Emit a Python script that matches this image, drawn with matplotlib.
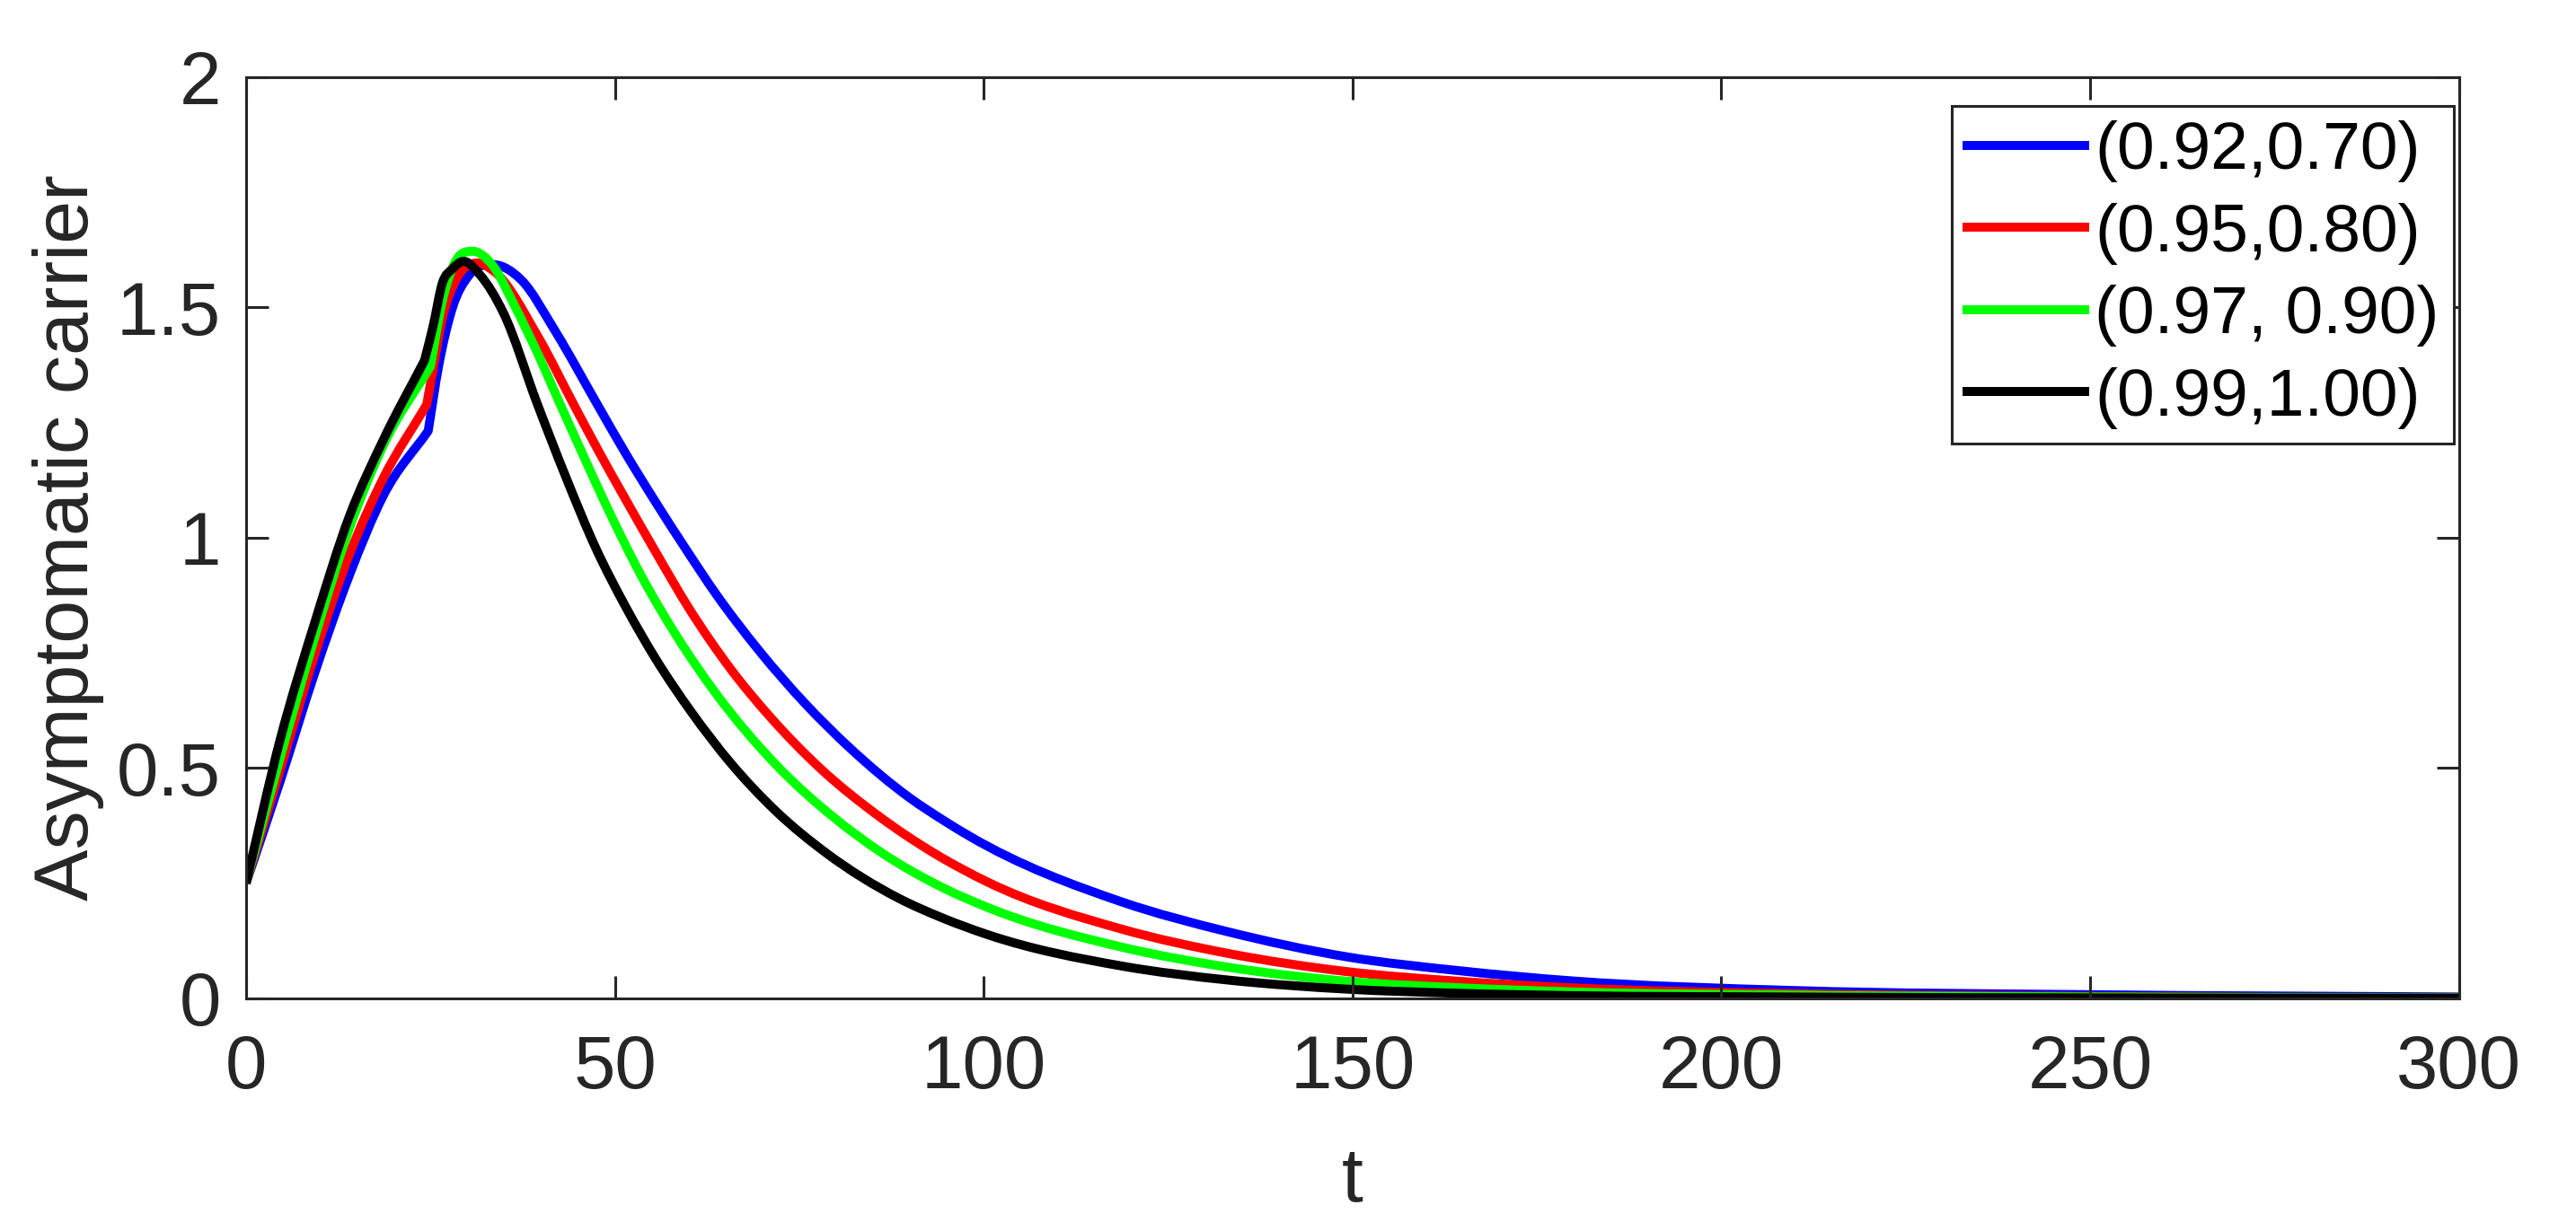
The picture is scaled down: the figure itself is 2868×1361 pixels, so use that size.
import matplotlib
matplotlib.use("Agg")
import matplotlib.pyplot as plt
from matplotlib.path import Path
from matplotlib.patches import PathPatch
from matplotlib.lines import Line2D

# Values
t_blue = [0, 4.7, 9.3, 14.0, 18.6, 24.7, 26.1, 28.0, 30.3, 33.5, 37.3, 41.9,
          47.6, 51.5, 55.5, 59.6, 63.7, 69.7, 75.8, 81.9, 90.0, 94.5, 98.2,
          118.8, 133.0, 149.3, 164.5, 179.7, 210, 250, 300]
y_blue = [0.25, 0.475, 0.706, 0.918, 1.091, 1.232, 1.372, 1.50, 1.571, 1.593, 1.56, 1.449,
          1.29, 1.182, 1.078, 0.976, 0.878, 0.752, 0.640, 0.543, 0.435, 0.387, 0.351,
          0.209, 0.145, 0.090, 0.060, 0.038, 0.017, 0.008, 0.003]

t_red = [0, 4.7, 9.3, 14.0, 18.6, 24.5, 25.4, 26.6, 28.4, 31.0, 33.5, 39.6,
         44.4, 47.8, 51.5, 55.5, 60.0, 65.7, 71.0, 77.8, 86.0, 93.3, 100.6,
         118.8, 133.0, 149.3, 164.5, 179.7, 210, 250, 300]
y_red = [0.25, 0.50, 0.745, 0.963, 1.129, 1.289, 1.37, 1.475, 1.558, 1.596, 1.58, 1.436,
         1.29, 1.188, 1.082, 0.970, 0.848, 0.715, 0.612, 0.500, 0.393, 0.315, 0.252,
         0.150, 0.098, 0.058, 0.037, 0.023, 0.010, 0.004, 0.0015]

t_green = [0, 4.7, 9.3, 14.0, 18.6, 25.0, 26.6, 28.4, 30.5, 33.5, 36.3, 39.6,
           42.3, 45.4, 48.6, 53.5, 58.4, 63.7, 71.8, 79.9, 86.0, 94.5, 100.6,
           118.8, 133.0, 149.3, 164.5, 179.7, 210, 250, 300]
y_green = [0.25, 0.527, 0.783, 1.02, 1.20, 1.372, 1.513, 1.60, 1.622, 1.59, 1.507, 1.398,
           1.30, 1.190, 1.078, 0.920, 0.786, 0.662, 0.508, 0.390, 0.318, 0.240, 0.197,
           0.111, 0.068, 0.037, 0.023, 0.014, 0.007, 0.003, 0.001]

t_black = [0, 4.7, 9.3, 14.0, 18.6, 24.2, 25.4, 26.6, 28.0, 29.4, 31.7, 34.9,
           39.5, 43.3, 47.4, 51.5, 55.5, 60.4, 65.7, 71.8, 78.7, 88.4, 94.5,
           100.6, 118.8, 133.0, 149.3, 164.5, 179.7, 210, 250, 300]
y_black = [0.25, 0.566, 0.815, 1.046, 1.212, 1.385, 1.462, 1.552, 1.584, 1.600, 1.571, 1.488,
           1.29, 1.134, 0.978, 0.849, 0.738, 0.621, 0.511, 0.407, 0.315, 0.218, 0.174,
           0.138, 0.070, 0.040, 0.020, 0.011, 0.006, 0.003, 0.001, 0.0005]

# index of the corner near t = 25 in every series
kinks = [5, 5, 5, 5]

labels = ["(0.92,0.70)", "(0.95,0.80)", "(0.97, 0.90)", "(0.99,1.00)"]
colors = ["#0000ff", "#ff0000", "#00ff00", "#000000"]

x_ticks = [0, 50, 100, 150, 200, 250, 300]
y_ticks = [0, 0.5, 1, 1.5, 2]
y_tick_labels = ["0", "0.5", "1", "1.5", "2"]


def bezier_piece(x, y):
    """Smooth cubic Bezier segments through the points (three-point slopes)."""
    n = len(x)
    h = [x[i + 1] - x[i] for i in range(n - 1)]
    dl = [(y[i + 1] - y[i]) / h[i] for i in range(n - 1)]
    d = [dl[0]] + [(h[k] * dl[k - 1] + h[k - 1] * dl[k]) / (h[k - 1] + h[k])
                   for k in range(1, n - 1)] + [dl[-1]]
    verts = []
    for i in range(n - 1):
        verts += [(x[i] + h[i] / 3, y[i] + d[i] * h[i] / 3),
                  (x[i + 1] - h[i] / 3, y[i + 1] - d[i + 1] * h[i] / 3),
                  (x[i + 1], y[i + 1])]
    return verts


def curve_path(x, y, k):
    verts = [(x[0], y[0])] + bezier_piece(x[:k + 1], y[:k + 1]) + bezier_piece(x[k:], y[k:])
    codes = [Path.MOVETO] + [Path.CURVE4] * (len(verts) - 1)
    return Path(verts, codes)


plt.rcParams["font.family"] = ["Liberation Sans", "DejaVu Sans"]
axis_grey = "#262626"
lw = 3.6

fig = plt.figure(figsize=(14.34, 6.805), dpi=200)
ax = fig.add_axes([0.0955, 0.183, 0.8591, 0.7539])

series = [(t_blue, y_blue), (t_red, y_red), (t_green, y_green), (t_black, y_black)]
handles = []
for (t, y), k, c, lab in zip(series, kinks, colors, labels):
    ax.add_patch(PathPatch(curve_path(t, y, k), facecolor="none", edgecolor=c,
                           linewidth=lw, joinstyle="round", capstyle="butt"))
    handles.append(Line2D([], [], color=c, linewidth=lw, label=lab))

ax.set_xlim(0, 300)
ax.set_ylim(0, 2)
ax.set_xticks(x_ticks)
ax.set_yticks(y_ticks)
ax.set_yticklabels(y_tick_labels)

for side in ["top", "bottom", "left", "right"]:
    ax.spines[side].set_color(axis_grey)
    ax.spines[side].set_linewidth(1.1)
    ax.spines[side].set_zorder(3)

ax.tick_params(axis="both", direction="in", length=9, width=1.1, color=axis_grey,
               labelcolor=axis_grey, labelsize=30, top=True, right=True)
ax.tick_params(axis="x", pad=14)
ax.tick_params(axis="y", pad=10)

ax.set_xlabel("t", fontsize=31, color=axis_grey)
ax.set_ylabel("Asymptomatic carrier", fontsize=31, color=axis_grey)
ax.xaxis.set_label_coords(0.5, -0.16)
ax.yaxis.set_label_coords(-0.064, 0.5)

leg = ax.legend(handles=handles, loc="upper right", bbox_to_anchor=(0.9976, 0.969),
                fontsize=27, frameon=True, fancybox=False, framealpha=1,
                edgecolor=axis_grey, handlelength=1.75, handletextpad=0.15,
                labelspacing=0.3, borderpad=0.22, borderaxespad=0.0)
leg.get_frame().set_linewidth(1.1)

plt.savefig("out.png", dpi=200)
